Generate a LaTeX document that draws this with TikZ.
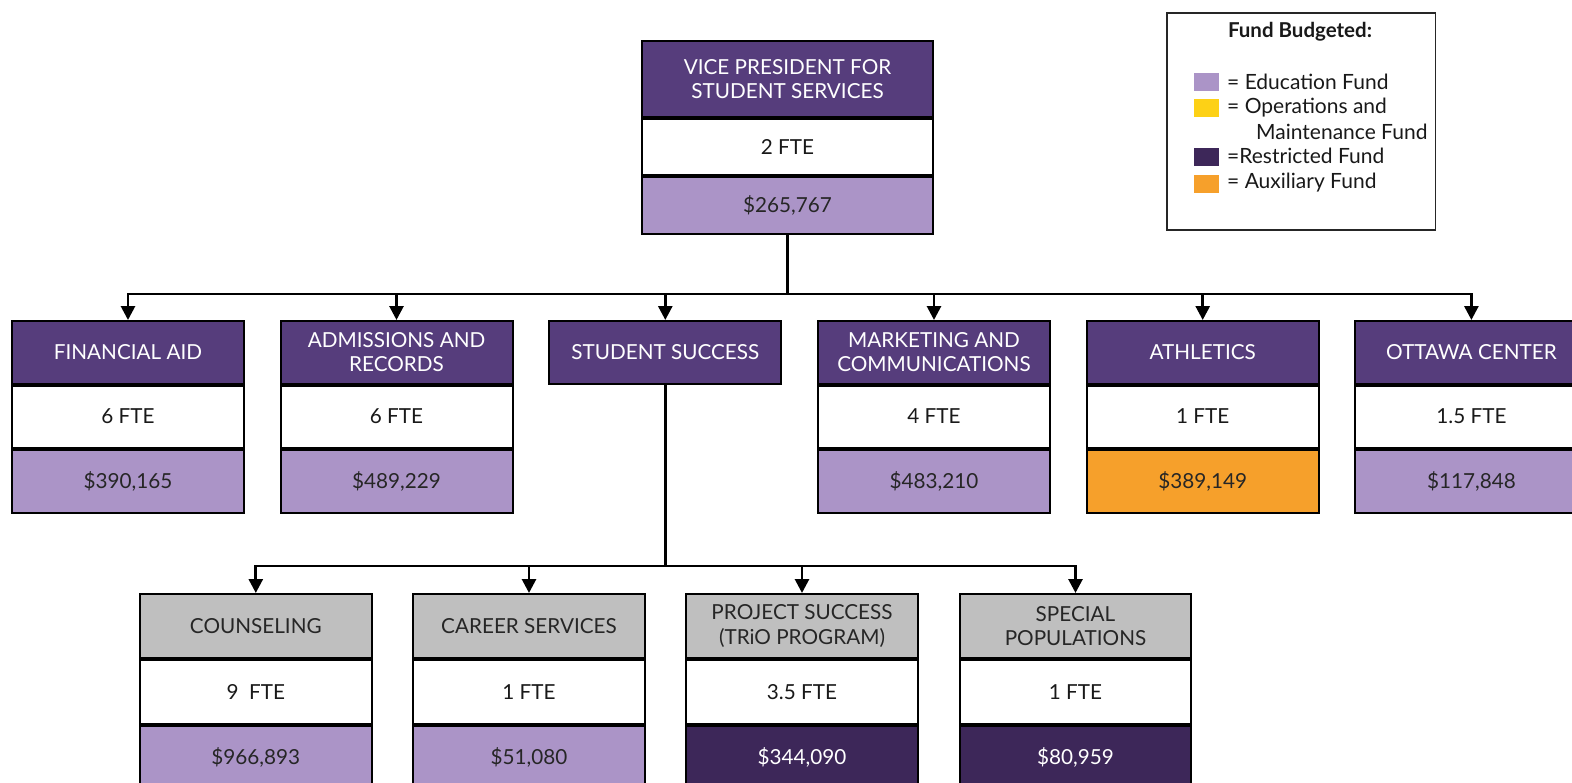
\documentclass[tikz,border=0pt]{standalone}
\usepackage{fontspec}
\setmainfont{Lato}
\usetikzlibrary{arrows.meta}
\definecolor{hdpurple}{HTML}{563D7C}
\definecolor{edufill}{HTML}{AB94C7}
\definecolor{resfill}{HTML}{3D2759}
\definecolor{auxfill}{HTML}{F6A02B}
\definecolor{opsfill}{HTML}{FDD116}
\definecolor{grayhd}{HTML}{BFBFBF}
\tikzset{
  cell/.style={draw=black, line width=2pt, rectangle, inner sep=0pt, anchor=north,
    align=center, font=\fontsize{20.7}{24.5}\selectfont},
  hd/.style={cell, fill=hdpurple, text=white},
  ghd/.style={cell, fill=grayhd, text=black!85},
  ftecell/.style={cell, fill=white, text=black!90},
  edu/.style={cell, fill=edufill, text=black!85},
  aux/.style={cell, fill=auxfill, text=black!85},
  res/.style={cell, fill=resfill, text=white},
  rowtwo/.style={minimum width=232pt},
  rowthree/.style={minimum width=231.5pt},
  wire/.style={line width=2.8pt, draw=black},
  arr/.style={wire, -{Triangle[width=14pt,length=14pt]}},
  swatch/.style={draw=none, rectangle},
  legtext/.style={anchor=west, inner sep=0pt, font=\fontsize{21}{25}\selectfont, text=black!90}
}
\begin{document}
\begin{tikzpicture}[x=1pt,y=-1pt]
\useasboundingbox (0,0) rectangle (1572,782);
\clip (0,0) rectangle (1572,782);
\fill[white] (0,0) rectangle (1572,782);

% ---------- top box ----------
\node[hd, minimum width=291.6pt, minimum height=75.7pt] (vp1) at (787.5,40) {VICE PRESIDENT FOR\\STUDENT SERVICES};
\node[ftecell, minimum width=291.6pt, minimum height=56.6pt] (vp2) at (vp1.south) {2 FTE};
\node[edu, minimum width=291.6pt, minimum height=56.4pt] (vp3) at (vp2.south) {\$265,767};

% ---------- second row ----------
\node[hd, rowtwo, minimum height=62.5pt] (fa1) at (128,320) {FINANCIAL AID};
\node[ftecell, rowtwo, minimum height=62pt] (fa2) at (fa1.south) {6 FTE};
\node[edu, rowtwo, minimum height=63pt] (fa3) at (fa2.south) {\$390,165};

\node[hd, rowtwo, minimum height=62.5pt] (ad1) at (396.5,320) {ADMISSIONS AND\\RECORDS};
\node[ftecell, rowtwo, minimum height=62pt] (ad2) at (ad1.south) {6 FTE};
\node[edu, rowtwo, minimum height=63pt] (ad3) at (ad2.south) {\$489,229};

\node[hd, rowtwo, minimum height=62.5pt] (ss1) at (665.3,320) {STUDENT SUCCESS};

\node[hd, rowtwo, minimum height=62.5pt] (mc1) at (934,320) {MARKETING AND\\COMMUNICATIONS};
\node[ftecell, rowtwo, minimum height=62pt] (mc2) at (mc1.south) {4 FTE};
\node[edu, rowtwo, minimum height=63pt] (mc3) at (mc2.south) {\$483,210};

\node[hd, rowtwo, minimum height=62.5pt] (at1) at (1202.7,320) {ATHLETICS};
\node[ftecell, rowtwo, minimum height=62pt] (at2) at (at1.south) {1 FTE};
\node[aux, rowtwo, minimum height=63pt] (at3) at (at2.south) {\$389,149};

\node[hd, rowtwo, minimum height=62.5pt] (ot1) at (1471.4,320) {OTTAWA CENTER};
\node[ftecell, rowtwo, minimum height=62pt] (ot2) at (ot1.south) {1.5 FTE};
\node[edu, rowtwo, minimum height=63pt] (ot3) at (ot2.south) {\$117,848};

% ---------- third row ----------
\node[ghd, rowthree, minimum height=64pt] (co1) at (255.8,593) {COUNSELING};
\node[ftecell, rowthree, minimum height=63.5pt] (co2) at (co1.south) {9\ \ FTE};
\node[edu, rowthree, minimum height=64pt] (co3) at (co2.south) {\$966,893};

\node[ghd, rowthree, minimum height=64pt] (cs1) at (529,593) {CAREER SERVICES};
\node[ftecell, rowthree, minimum height=63.5pt] (cs2) at (cs1.south) {1 FTE};
\node[edu, rowthree, minimum height=64pt] (cs3) at (cs2.south) {\$51,080};

\node[ghd, rowthree, minimum height=64pt] (ps1) at (802,593) {PROJECT SUCCESS\\(TRiO PROGRAM)};
\node[ftecell, rowthree, minimum height=63.5pt] (ps2) at (ps1.south) {3.5 FTE};
\node[res, rowthree, minimum height=64pt] (ps3) at (ps2.south) {\$344,090};

\node[ghd, rowthree, minimum height=64pt] (sp1) at (1075.5,593) {SPECIAL\\POPULATIONS};
\node[ftecell, rowthree, minimum height=63.5pt] (sp2) at (sp1.south) {1 FTE};
\node[res, rowthree, minimum height=64pt] (sp3) at (sp2.south) {\$80,959};

% ---------- connectors ----------
\coordinate (bus1) at (787.5,294);
\coordinate (bus2) at (665.3,566);
\draw[wire] (vp3.south) -- (bus1);
\draw[wire, line cap=rect] (fa1.north |- bus1) -- (ot1.north |- bus1);
\foreach \n in {fa1,ad1,ss1,mc1,at1,ot1}{
  \draw[arr] (\n.north |- bus1) -- (\n.north);
}
\draw[wire] (ss1.south) -- (bus2);
\draw[wire, line cap=rect] (co1.north |- bus2) -- (sp1.north |- bus2);
\foreach \n in {co1,cs1,ps1,sp1}{
  \draw[arr] (\n.north |- bus2) -- (\n.north);
}

% ---------- legend ----------
\node[draw=black!85, line width=1.5pt, rectangle, inner sep=0pt, anchor=north west,
  minimum width=268.5pt, minimum height=217pt] (legend) at (1166,12) {};
\node[font=\fontsize{20.5}{24}\selectfont\bfseries, inner sep=0pt, text=black!90] (legtitle) at (1300,32) {Fund Budgeted:};
\node[swatch, fill=edufill, anchor=north west, minimum width=25pt, minimum height=18pt, inner sep=0pt] (sw1) at (1194,73) {};
\node[swatch, fill=opsfill, anchor=north west, minimum width=25pt, minimum height=18pt, inner sep=0pt] (sw2) at (1194,98.5) {};
\node[swatch, fill=resfill, anchor=north west, minimum width=25pt, minimum height=18pt, inner sep=0pt] (sw3) at (1194,147.5) {};
\node[swatch, fill=auxfill, anchor=north west, minimum width=25pt, minimum height=18pt, inner sep=0pt] (sw4) at (1194,175) {};
\node[legtext] (lt1) at (1227,82) {= Education Fund};
\node[legtext] (lt2) at (1227,107.5) {= Operations and};
\node[legtext] (lt2b) at (1256,131.5) {Maintenance Fund};
\node[legtext] (lt3) at (1227,156) {=Restricted Fund};
\node[legtext] (lt4) at (1227,183) {= Auxiliary Fund};
\end{tikzpicture}
\end{document}
